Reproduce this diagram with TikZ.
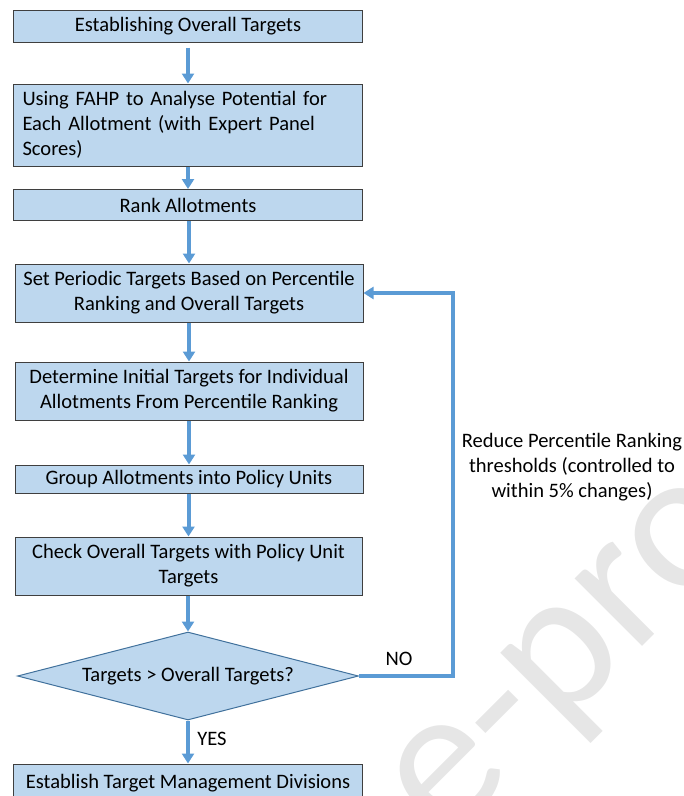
\documentclass[tikz,border=0pt]{standalone}
\usepackage{fontspec}
\setmainfont{Carlito}
\usetikzlibrary{arrows.meta,shapes.geometric}
\definecolor{boxfill}{HTML}{BDD7EE}
\definecolor{arrowblue}{HTML}{5B9BD5}
\definecolor{diaedge}{HTML}{41719C}
\definecolor{boxedge}{HTML}{3F3F3F}
\definecolor{wmgray}{HTML}{E6E6E6}
\tikzset{
  txt/.style={font=\fontsize{15.4}{18.75}\selectfont, text=black},
  flowbox/.style={txt, draw=boxedge, line width=0.75pt, fill=boxfill, inner sep=0pt, align=center},
  boxsize/.style 2 args={minimum width=#1*0.75pt, minimum height=#2*0.75pt},
  decision/.style={txt, diamond, draw=diaedge, line width=0.75pt, fill=boxfill, inner sep=0pt, aspect=3.875},
  flowarrow/.style={draw=arrowblue, line width=3pt, -{Triangle[width=9pt,length=7.5pt]}},
  feedline/.style={draw=arrowblue, line width=3pt, line join=miter, -{Triangle[width=9pt,length=7.5pt]}},
  wmstyle/.style={font=\fontsize{150}{150}\selectfont, text=wmgray, inner sep=0pt}
}
\begin{document}
\begin{tikzpicture}[x=0.75pt,y=-0.75pt]
\useasboundingbox (0,0) rectangle (683,796);
% watermark
\begin{scope}
\clip (0,0) rectangle (683,796);
\node[wmstyle, rotate=45, anchor=base west] (wmark) at (445,844) {e-proof};
\end{scope}
% boxes
\node[flowbox, boxsize={349}{32}] (b1) at (188,26) {Establishing Overall Targets};
\node[flowbox, boxsize={349}{82}, text width=331*0.75pt, align=left] (b2) at (188,125) {Using FAHP to Analyse Potential for\\Each Allotment (with Expert Panel\\Scores)};
\node[flowbox, boxsize={349}{31}] (b3) at (188,205) {Rank Allotments};
\node[flowbox, boxsize={348}{58}] (b4) at (189,293) {Set Periodic Targets Based on Percentile\\Ranking and Overall Targets};
\node[flowbox, boxsize={348}{58}] (b5) at (189,391) {Determine Initial Targets for Individual\\Allotments From Percentile Ranking};
\node[flowbox, boxsize={348}{28}] (b6) at (189,479) {Group Allotments into Policy Units};
\node[flowbox, boxsize={347}{58}] (b7) at (188.5,566) {Check Overall Targets with Policy Unit\\Targets};
\node[decision, minimum width=341*0.75pt, minimum height=88*0.75pt] (dia) at (188,676) {Targets > Overall Targets?};
\node[flowbox, boxsize={349}{38}] (b8) at (188,783) {Establish Target Management Divisions};
% arrows
\draw[flowarrow, shorten <=3.75pt] (b1) -- (b2);
\draw[flowarrow] (b2) -- (b3);
\draw[flowarrow] (b3.south -| b4.north) -- (b4.north);
\draw[flowarrow] (b4) -- (b5);
\draw[flowarrow] (b5) -- (b6);
\draw[flowarrow] (b6.south -| b7.north) -- (b7.north);
\draw[flowarrow] (b7.south -| dia.north) -- (dia.north);
\draw[flowarrow] (dia) -- (b8);
\coordinate (fx) at (453,678);
\draw[feedline] (dia.east) -- (dia.east -| fx) -- (b4.east -| fx) -- (b4.east);
% labels
\node[txt] (no) at (399,659) {NO};
\node[txt] (yes) at (212,739) {YES};
\node[txt, align=center] (reduce) at (572,467) {Reduce Percentile Ranking\\thresholds (controlled to\\within 5\% changes)};
\end{tikzpicture}
\end{document}
